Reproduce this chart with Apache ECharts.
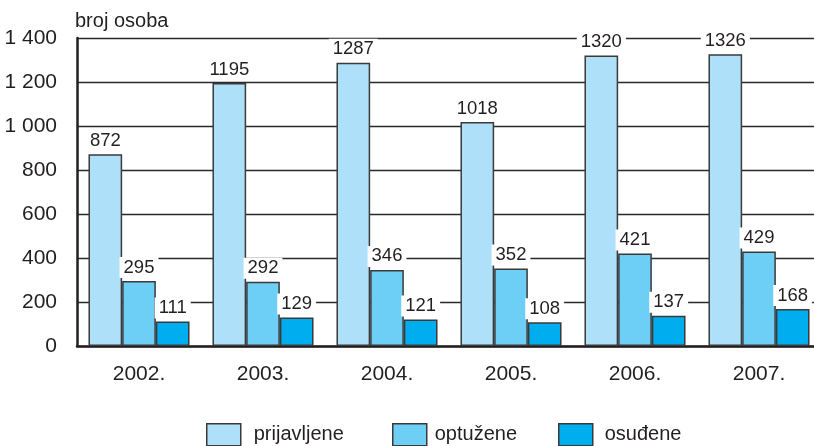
<!DOCTYPE html>
<html>
<head>
<meta charset="utf-8">
<script src="https://cdn.jsdelivr.net/npm/echarts@6/dist/echarts.min.js"></script>
<style>html,body{margin:0;padding:0;background:#fff}#c{width:814px;height:446px}</style>
</head>
<body>
<div id="c"></div>
<script>
var years = ['2002.', '2003.', '2004.', '2005.', '2006.', '2007.'];
var seriesNames = ['prijavljene', 'optužene', 'osuđene'];
var prijavljene = [872, 1195, 1287, 1018, 1320, 1326];
var optuzene = [295, 292, 346, 352, 421, 429];
var osudjene = [111, 129, 121, 108, 137, 168];
var colors = ['#aee1f9', '#6dcff6', '#00aeef'];
var ink = '#231f20';
var font = '"Liberation Sans", Arial, sans-serif';

var chart = echarts.init(document.getElementById('c'), null, {renderer: 'canvas'});
function mkSeries(name, data, color) {
  return {
    name: name, type: 'bar', data: data,
    barGap: '0%', barCategoryGap: '18.5%',
    itemStyle: {color: color, borderColor: '#3a3a3a', borderWidth: 1.5},
    label: {
      show: true, position: 'top', distance: 3,
      color: ink, fontSize: 18.5, fontFamily: font,
      backgroundColor: '#fff', padding: [1, 4]
    },
    emphasis: {disabled: true}
  };
}
function mkLegend(name, left, gap) {
  return {
    data: [name], left: left, top: 423, itemWidth: 34, itemHeight: 22,
    icon: 'rect', selectedMode: false, padding: 0,
    itemStyle: {borderColor: '#3a3a3a', borderWidth: 1.5},
    textStyle: {color: ink, fontSize: 20, fontFamily: font, padding: [0, 0, 0, gap]}
  };
}
chart.setOption({
  animation: false,
  textStyle: {fontFamily: font},
  grid: {left: 77, top: 38, width: 744, height: 308, containLabel: false, outerBoundsMode: 'none'},
  legend: [
    mkLegend(seriesNames[0], 206, 8),
    mkLegend(seriesNames[1], 392, 3),
    mkLegend(seriesNames[2], 558, 7)
  ],
  graphic: [{
    type: 'text', left: 75, top: 11,
    style: {text: 'broj osoba', fill: ink, fontSize: 20, fontFamily: font}
  }],
  xAxis: {
    type: 'category', data: years,
    axisLine: {lineStyle: {color: ink, width: 2.5}},
    axisTick: {show: false},
    axisLabel: {color: ink, fontSize: 21, fontFamily: font, margin: 18}
  },
  yAxis: {
    type: 'value', min: 0, max: 1400, interval: 200,
    axisLine: {show: true, lineStyle: {color: ink, width: 2.5}},
    axisTick: {show: false},
    splitLine: {lineStyle: {color: '#2a2a2a', width: 1.4}},
    axisLabel: {
      color: ink, fontSize: 21, fontFamily: font, margin: 20,
      formatter: function (v) { return v >= 1000 ? Math.floor(v / 1000) + ' ' + String(v % 1000).padStart(3, '0') : String(v); }
    }
  },
  series: [
    mkSeries(seriesNames[0], prijavljene, colors[0]),
    mkSeries(seriesNames[1], optuzene, colors[1]),
    mkSeries(seriesNames[2], osudjene, colors[2])
  ]
});
</script>
</body>
</html>
